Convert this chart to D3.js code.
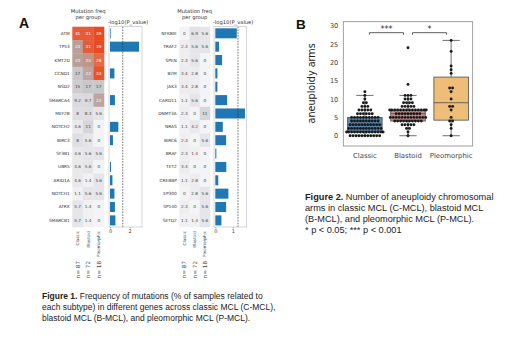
<!DOCTYPE html>
<html><head><meta charset="utf-8">
<script src="https://cdn.jsdelivr.net/npm/d3@7/dist/d3.min.js"></script>
<style>body{margin:0;background:#fff}svg{display:block}</style>
</head><body>
<svg id="c" width="520" height="343"></svg>
<script>
// ---------- DATA ----------
const groups = ["Classic", "Blastoid", "Pleomorphic"];
const groupN = ["n= 87", "n= 72", "n= 18"];

const genesA = ["ATM","TP53","KMT2D","CCND1","NSD2","SMARCA4","MEF2B","NOTCH2","BIRC3","SF3B1","UBR5","ARID1A","NOTCH1","ATRX","SMARCB1"];
const classicA = [31, 23, 23, 17, 15, 9.2, 8, 4.6, 8, 4.6, 4.6, 4.6, 1.1, 5.7, 5.7];
const blastoidA = [31, 31, 24, 22, 17, 9.7, 8.3, 11, 5.6, 5.6, 5.6, 1.4, 5.6, 1.4, 1.4];
const pleoA = [39, 39, 28, 33, 17, 22, 5.6, 0, 0, 5.6, 0, 5.6, 5.6, 0, 0];
const logpA = [0.07, 2.95, 0, 0.45, 0, 0.5, 0, 0.85, 0.3, 0, 0.1, 0.25, 0.45, 0.5, 0.55];

const genesB = ["NFKBIE","TRAF2","SPEN","B2M","JAK3","CARD11","DNMT3A","NRAS","BIRC6","BRAF","TET2","CREBBP","EP300","SP140","SETD2"];
const classicB = [0, 2.3, 2.3, 3.4, 3.4, 1.1, 2.3, 1.1, 2.3, 2.3, 3.4, 1.1, 0, 2.3, 1.1];
const blastoidB = [6.9, 5.6, 5.6, 2.8, 2.8, 5.6, 0, 4.2, 0, 1.4, 0, 2.8, 2.8, 0, 1.4];
const pleoB = [5.6, 5.6, 0, 0, 0, 0, 11, 0, 5.6, 0, 0, 0, 5.6, 5.6, 5.6];
const logpB = [1.23, 0.21, 0.39, 0.12, 0.12, 0.68, 1.7, 0.43, 0.62, 0.06, 0.63, 0.17, 0.75, 0.62, 0.35];
const pThreshold = 1.3;

// aneuploidy arms per subtype (value: count of samples)
const armValues = [0,1,2,3,4,5,6,7,8,9,10,11,12,13,14,15,16,17,18,19,20,21,22,23,24,25,26];
const classicCounts = [11,14,12,11,10,10,6,5,3,2,1,1,1,0,0,0,0,0,0,0,0,0,0,0,0,0,0];
const blastoidCounts = [1,1,2,5,10,13,9,14,5,4,3,3,0,0,1,0,0,0,0,0,0,0,0,0,1,0,0];
const pleoCounts = [1,0,1,1,2,1,0,1,2,0,1,0,1,2,0,0,0,1,1,1,0,0,0,1,0,0,1];
const yTicks = [0,5,10,15,20,25,30];
const sigLabels = [["Classic","Blastoid","***"],["Blastoid","Pleomorphic","*"]];

const caption1 = ["Frequency of mutations (% of samples related to",
  "each subtype) in different genes across classic MCL (C-MCL),",
  "blastoid MCL (B-MCL), and pleomorphic MCL (P-MCL)."];
const caption2 = ["Number of aneuploidy chromosomal",
  "arms in classic MCL (C-MCL), blastoid MCL",
  "(B-MCL), and pleomorphic MCL (P-MCL).",
  "* p < 0.05; *** p < 0.001"];

// ---------- DRAW ----------
const svg = d3.select("#c");
const SANS = "DejaVu Sans, sans-serif";
const ARIAL = "Liberation Sans, Arial, sans-serif";

const heatColor = d3.scaleLinear()
  .domain([0, 6, 12, 18, 23, 28, 35])
  .range(["#f4f4f6", "#e5e5e9", "#d3d3d7", "#c6c4c6", "#b99f98", "#e46a48", "#ea4a22"])
  .clamp(true);

function panel(genes, c, b, p, logp, o) {
  const g = svg.append("g");
  const y = d3.scaleBand().domain(genes).range([26.7, 227]);
  const x = d3.scaleBand().domain(groups).range([o.hx0, o.hx1]);
  const cells = [];
  genes.forEach((gene, i) => {
    [c[i], b[i], p[i]].forEach((v, j) => cells.push({gene, grp: groups[j], v}));
  });
  g.selectAll("rect.cell").data(cells).join("rect")
    .attr("x", d => x(d.grp)).attr("y", d => y(d.gene))
    .attr("width", x.bandwidth() + 0.3).attr("height", y.bandwidth() + 0.3)
    .attr("fill", d => heatColor(d.v));
  g.selectAll("text.cv").data(cells).join("text")
    .attr("x", d => x(d.grp) + x.bandwidth() / 2)
    .attr("y", d => y(d.gene) + y.bandwidth() / 2 + 1.5)
    .attr("text-anchor", "middle").attr("font-family", SANS).attr("font-size", 4.2)
    .attr("fill", d => d.v >= 20 ? "#fff" : "#444")
    .text(d => d.v);
  g.selectAll("text.gn").data(genes).join("text")
    .attr("x", o.hx0 - 2.5).attr("y", d => y(d) + y.bandwidth() / 2 + 1.5)
    .attr("text-anchor", "end").attr("font-family", SANS).attr("font-size", 4.3)
    .attr("fill", "#333").text(d => d);
  // title
  const cx = (o.hx0 + o.hx1) / 2;
  g.append("text").attr("x", cx).attr("y", 13).attr("text-anchor", "middle")
    .attr("font-family", SANS).attr("font-size", 5.2).attr("fill", "#333").text("Mutation freq");
  g.append("text").attr("x", cx).attr("y", 19).attr("text-anchor", "middle")
    .attr("font-family", SANS).attr("font-size", 5.2).attr("fill", "#333").text("per group");
  // column labels
  groups.forEach((gr, j) => {
    const xx = x(gr) + x.bandwidth() / 2 + 1.5;
    g.append("text").attr("transform", `translate(${xx},231) rotate(-90)`)
      .attr("text-anchor", "end").attr("font-family", SANS).attr("font-size", 4.2)
      .attr("fill", "#444").text(gr);
    g.append("text").attr("transform", `translate(${xx + 0.5},261) rotate(-90)`)
      .attr("text-anchor", "end").attr("font-family", SANS).attr("font-size", 5.6)
      .attr("fill", "#444").text(groupN[j]);
  });
  // bars
  const bx = d3.scaleLinear().domain(o.dom).range([o.bx0, o.bx1]);
  const by = d3.scaleBand().domain(genes).range([26.7, 227]).paddingInner(0.25).paddingOuter(0.12);
  g.selectAll("rect.bar").data(genes).join("rect")
    .attr("x", bx(0)).attr("y", d => by(d))
    .attr("width", (d, i) => Math.max(0, bx(logp[i]) - bx(0)))
    .attr("height", by.bandwidth()).attr("fill", "#1f77b4");
  g.append("line").attr("x1", bx(pThreshold)).attr("x2", bx(pThreshold))
    .attr("y1", 26.7).attr("y2", 227).attr("stroke", "#333").attr("stroke-width", 0.7)
    .attr("stroke-dasharray", "1.6,1.2");
  g.append("rect").attr("x", o.bx0).attr("y", 26.7).attr("width", o.bx1 - o.bx0).attr("height", 227 - 26.7)
    .attr("fill", "none").attr("stroke", "#b8bcc4").attr("stroke-width", 0.6);
  const ax = g.append("g").attr("transform", "translate(0,227)")
    .call(d3.axisBottom(bx).tickValues(o.ticks).tickSize(1.5).tickPadding(1).tickFormat(d3.format("d")));
  ax.select(".domain").remove();
  ax.selectAll("line").attr("stroke", "#666").attr("stroke-width", 0.5);
  ax.selectAll("text").attr("font-family", SANS).attr("font-size", 5).attr("fill", "#444");
  g.append("text").attr("x", o.bx0 - 1).attr("y", 24).attr("font-family", SANS).attr("font-size", 5.2)
    .attr("fill", "#333").text("-log10(P_value)");
}

panel(genesA, classicA, blastoidA, pleoA, logpA, {hx0: 72.3, hx1: 104, bx0: 109, bx1: 142, dom: [-0.1, 3.25], ticks: [0, 2]});
panel(genesB, classicB, blastoidB, pleoB, logpB, {hx0: 179.3, hx1: 210, bx0: 214, bx1: 246.7, dom: [-0.075, 1.8], ticks: [0, 1]});

svg.append("text").attr("x", 19).attr("y", 27.5).attr("font-family", ARIAL).attr("font-weight", "bold")
  .attr("font-size", 14).attr("fill", "#111").text("A");
svg.append("text").attr("x", 296).attr("y", 28.5).attr("font-family", ARIAL).attr("font-weight", "bold")
  .attr("font-size", 13.5).attr("fill", "#111").text("B");

// captions
function caption(x, y0, lh, fs, label, lines) {
  const t = svg.append("text").attr("font-family", ARIAL).attr("font-size", fs).attr("fill", "#222");
  lines.forEach((ln, i) => {
    const ts = t.append("tspan").attr("x", x).attr("y", y0 + i * lh);
    if (i === 0) { ts.append("tspan").attr("font-weight", "bold").text(label + " "); }
    ts.append("tspan").text(ln);
  });
}
caption(42, 299, 11.2, 8.5, "Figure 1.", caption1);
caption(305, 200, 11, 9.2, "Figure 2.", caption2);

// ---------- BOX + SWARM ----------
const series = [classicCounts, blastoidCounts, pleoCounts].map(cnt => {
  const vals = [];
  cnt.forEach((n, i) => { for (let k = 0; k < n; k++) vals.push(armValues[i]); });
  return vals;
});
const fills = ["#5b89b3", "#cc8a88", "#eebd77"];
const X0 = 343.3, X1 = 472.7, Y0 = 21.7, Y1 = 146;
const xb = d3.scaleBand().domain(groups).range([X0, X1]);
const yb = d3.scaleLinear().domain([-2.8, 31.1]).range([Y1, Y0]);
const bp = svg.append("g");
const bw = xb.bandwidth() * 0.8;

groups.forEach((gr, j) => {
  const v = series[j].slice().sort(d3.ascending);
  const q1 = d3.quantile(v, 0.25), med = d3.quantile(v, 0.5), q3 = d3.quantile(v, 0.75);
  const iqr = q3 - q1;
  const lo = d3.min(v.filter(d => d >= q1 - 1.5 * iqr));
  const hi = d3.max(v.filter(d => d <= q3 + 1.5 * iqr));
  const cx = xb(gr) + xb.bandwidth() / 2;
  const col = "#4d4d4d";
  bp.append("line").attr("x1", cx).attr("x2", cx).attr("y1", yb(q3)).attr("y2", yb(hi)).attr("stroke", col).attr("stroke-width", 0.8);
  bp.append("line").attr("x1", cx).attr("x2", cx).attr("y1", yb(q1)).attr("y2", yb(lo)).attr("stroke", col).attr("stroke-width", 0.8);
  bp.append("line").attr("x1", cx - bw / 4).attr("x2", cx + bw / 4).attr("y1", yb(hi)).attr("y2", yb(hi)).attr("stroke", col).attr("stroke-width", 0.8);
  bp.append("line").attr("x1", cx - bw / 4).attr("x2", cx + bw / 4).attr("y1", yb(lo)).attr("y2", yb(lo)).attr("stroke", col).attr("stroke-width", 0.8);
  bp.append("rect").attr("x", cx - bw / 2).attr("y", yb(q3)).attr("width", bw).attr("height", yb(q1) - yb(q3))
    .attr("fill", fills[j]).attr("stroke", col).attr("stroke-width", 0.8);
  bp.append("line").attr("x1", cx - bw / 2).attr("x2", cx + bw / 2).attr("y1", yb(med)).attr("y2", yb(med)).attr("stroke", col).attr("stroke-width", 0.8);
  // swarm rows
  const step = 2.95, half = bw / 2 + 1;
  const byVal = d3.group(v, d => d);
  byVal.forEach((arr, val) => {
    const n = arr.length;
    arr.forEach((d, k) => {
      let off = (k - (n - 1) / 2) * step;
      off = Math.max(-half, Math.min(half, off));
      bp.append("circle").attr("cx", cx + off).attr("cy", yb(val)).attr("r", 1.45).attr("fill", "#1a1a1a");
    });
  });
});
bp.append("rect").attr("x", X0).attr("y", Y0).attr("width", X1 - X0).attr("height", Y1 - Y0)
  .attr("fill", "none").attr("stroke", "#8a8a8a").attr("stroke-width", 0.8);
const ya = bp.append("g").attr("transform", `translate(${X0},0)`)
  .call(d3.axisLeft(yb).tickValues(yTicks).tickSize(0).tickPadding(5));
ya.select(".domain").remove();
ya.selectAll("text").attr("font-family", SANS).attr("font-size", 6.6).attr("fill", "#444");
const xa = bp.append("g").attr("transform", `translate(0,${Y1})`)
  .call(d3.axisBottom(xb).tickSize(0).tickPadding(7));
xa.select(".domain").remove();
xa.selectAll("text").attr("font-family", SANS).attr("font-size", 6.9).attr("fill", "#444");
bp.append("text").attr("transform", `translate(314.5,${(Y0 + Y1) / 2 - 0.5}) rotate(-90)`)
  .attr("text-anchor", "middle").attr("font-family", SANS).attr("font-size", 9.6).attr("fill", "#222")
  .text("aneuploidy arms");
// significance brackets
sigLabels.forEach(([a, b, lab]) => {
  const xa1 = xb(a) + xb.bandwidth() / 2 + 4.5, xb1 = xb(b) + xb.bandwidth() / 2 - 4.5;
  const yy = 32.7;
  bp.append("path").attr("d", `M${xa1},${yy + 2}V${yy}H${xb1}V${yy + 2}`)
    .attr("fill", "none").attr("stroke", "#333").attr("stroke-width", 0.8);
  bp.append("text").attr("x", (xa1 + xb1) / 2).attr("y", yy - 0.5).attr("text-anchor", "middle")
    .attr("font-family", SANS).attr("font-size", 8).attr("fill", "#333").text(lab);
});
</script>
</body></html>
